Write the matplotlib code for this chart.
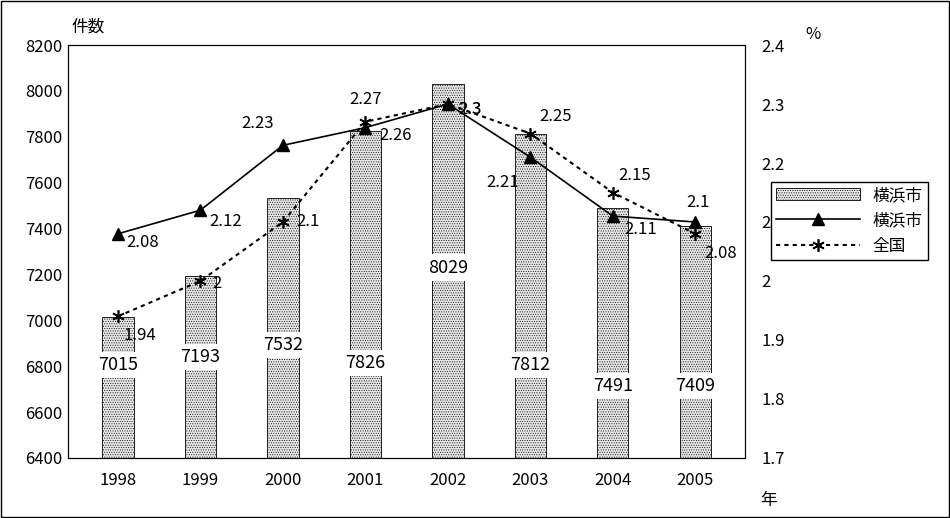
import matplotlib.pyplot as plt
from matplotlib.patches import Rectangle

plt.rcParams['font.family'] = ['Noto Sans CJK JP', 'DejaVu Sans']
plt.rcParams['hatch.linewidth'] = 0.4

years = ['1998', '1999', '2000', '2001', '2002', '2003', '2004', '2005']
counts = [7015, 7193, 7532, 7826, 8029, 7812, 7491, 7409]
yokohama_pct = [2.08, 2.12, 2.23, 2.26, 2.3, 2.21, 2.11, 2.1]
national_pct = [1.94, 2.0, 2.1, 2.27, 2.3, 2.25, 2.15, 2.08]

# label placement (style only)
bar_label_y = [6805, 6840, 6893, 6815, 7230, 6805, 6715, 6715]
yk_off = [(18, -6), (18, -8), (-18, 16), (22, -6), (16, -4), (-20, -18), (20, -10), (2, 14)]
nt_off = [(16, -14), (12, -2), (18, 0), (0, 16), (16, -4), (18, 12), (16, 12), (18, -14)]

fig = plt.figure(figsize=(9.5, 5.18), dpi=100)
fig.patches.append(Rectangle((0.001, 0.002), 0.998, 0.996, transform=fig.transFigure,
                             fill=False, edgecolor='black', linewidth=1))
ax = fig.add_axes([0.072, 0.116, 0.712, 0.797])
x = range(len(years))
bars = ax.bar(x, counts, width=0.38, color='#e8e8e8', edgecolor='black', linewidth=0.6,
              hatch='.......', label='横浜市')
for i, (v, ly) in enumerate(zip(counts, bar_label_y)):
    ax.text(i, ly, str(v), ha='center', va='center', fontsize=13,
            bbox=dict(facecolor='white', edgecolor='none', pad=3))
ax.set_ylim(6400, 8200)
ax.set_yticks(range(6400, 8201, 200))
ax.set_xlim(-0.6, 7.6)
ax.set_xticks(list(x))
ax.set_xticklabels(years)
ax.tick_params(labelsize=12, length=0, pad=10)
ax.tick_params(axis='y', pad=4)

ax2 = ax.twinx()
l1, = ax2.plot(x, yokohama_pct, 'k-', marker='^', markersize=8, linewidth=1.2, label='横浜市')
l2, = ax2.plot(x, national_pct, 'k', linestyle=(0, (2, 2)), marker=(6, 2, 0), markersize=9,
               linewidth=1.5, markeredgewidth=1.2, label='全国')
for i, v in enumerate(yokohama_pct):
    ax2.annotate(f'{v:g}', (i, v), xytext=yk_off[i], textcoords='offset points',
                 ha='center', va='center', fontsize=12)
for i, v in enumerate(national_pct):
    ax2.annotate(f'{v:g}', (i, v), xytext=nt_off[i], textcoords='offset points',
                 ha='center', va='center', fontsize=12)
ax2.set_ylim(1.7, 2.4)
ax2.set_yticks([1.7, 1.8, 1.9, 2.0, 2.1, 2.2, 2.3, 2.4])
ax2.set_yticklabels(['1.7', '1.8', '1.9', '2', '2.1', '2.2', '2.3', '2.4'])
ax2.tick_params(labelsize=12, length=0, pad=12)

fig.text(0.075, 0.94, '件数', fontsize=12, ha='left')
fig.text(0.848, 0.925, '%', fontsize=12)
fig.text(0.80, 0.025, '年', fontsize=12)

leg = fig.legend([bars, l1, l2], ['横浜市', '横浜市', '全国'], loc='upper left',
                 bbox_to_anchor=(0.803, 0.665), fontsize=12, frameon=True, fancybox=False,
                 edgecolor='black', handlelength=5, borderpad=0.3, labelspacing=0.5,
                 framealpha=1)
leg.get_frame().set_linewidth(1)
fig.savefig('out.png', dpi=100)
